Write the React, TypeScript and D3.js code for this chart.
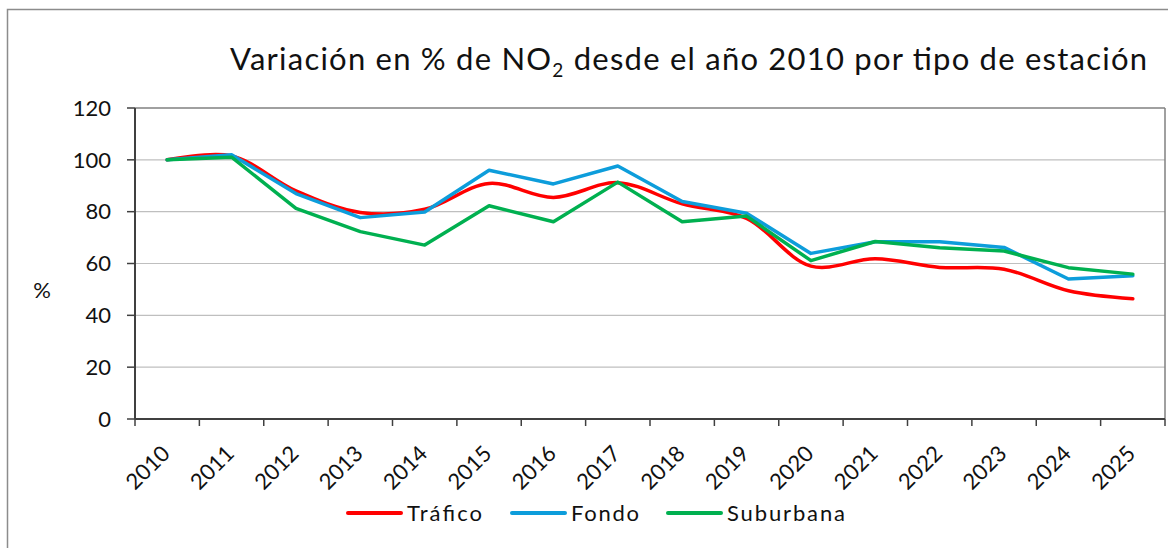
import React from 'react';
import * as d3 from 'd3';

// values
const years = ['2010', '2011', '2012', '2013', '2014', '2015', '2016', '2017', '2018', '2019', '2020', '2021', '2022', '2023', '2024', '2025'];
const trafico = [100, 101.5, 88, 79.7, 80.9, 90.9, 85.5, 91.2, 83, 77.4, 59, 61.8, 58.5, 57.8, 49.5, 46.4];
const fondo = [100, 102, 87, 77.7, 79.9, 96, 90.7, 97.6, 83.9, 79.4, 63.9, 68.4, 68.4, 66.2, 54, 55.3];
const suburbana = [100, 101, 81.3, 72.3, 67.1, 82.3, 76.1, 91.4, 76.1, 78.3, 61.1, 68.5, 66.1, 64.8, 58.4, 55.9];
const yTicks = [0, 20, 40, 60, 80, 100, 120];

const series = [
  { name: 'Tráfico', values: trafico, color: '#ff0000', smooth: true },
  { name: 'Fondo', values: fondo, color: '#0d9ddb', smooth: false },
  { name: 'Suburbana', values: suburbana, color: '#00b050', smooth: false },
];

const W = 1168;
const H = 548;
const FONT = 'Lato, "Open Sans", sans-serif';
const plot = { left: 135, right: 1165, top: 108, bottom: 419 };

export default function App() {
  const x = d3.scaleBand<string>().domain(years).range([plot.left, plot.right]);
  const y = d3.scaleLinear().domain([0, 120]).range([plot.bottom, plot.top]);
  const cx = (d: string) => (x(d) as number) + x.bandwidth() / 2;

  const mkLine = (smooth: boolean) =>
    d3
      .line<number>()
      .x((_, i) => cx(years[i]))
      .y((v) => y(v))
      .curve(smooth ? d3.curveCatmullRom.alpha(0.5) : d3.curveLinear);

  // legend positions and label widths as in the reference
  const legendItems = [
    { x: 348, w: 75 },
    { x: 512, w: 68 },
    { x: 668, w: 118 },
  ];

  return (
    <svg width={W} height={H} style={{ position: 'absolute', left: 0, top: 0, background: '#fff' }} fontFamily={FONT}>
      {/* chart frame */}
      <rect x={7.5} y={9.5} width={1180} height={560} fill="#fff" stroke="#8c8c8c" strokeWidth={1.5} />

      {/* title */}
      <text x={230} y={70} fontSize={31} fill="#111" textLength={917} lengthAdjust="spacing">
        Variación en % de NO<tspan fontSize={19} dy={7}>2</tspan>
        <tspan dy={-7}> desde el año 2010 por tipo de estación</tspan>
      </text>

      {/* gridlines */}
      {yTicks.filter((t) => t > 0 && t < 120).map((t) => (
        <line key={t} x1={plot.left} x2={plot.right} y1={y(t)} y2={y(t)} stroke="#bfbfbf" strokeWidth={1.2} />
      ))}
      {/* plot box top/right */}
      <line x1={plot.left} x2={plot.right} y1={y(120)} y2={y(120)} stroke="#808080" strokeWidth={1.5} />
      <line x1={plot.right} x2={plot.right} y1={plot.top} y2={plot.bottom} stroke="#808080" strokeWidth={1.5} />

      {/* y axis */}
      <line x1={plot.left} x2={plot.left} y1={plot.top} y2={plot.bottom} stroke="#404040" strokeWidth={2} />
      {yTicks.map((t) => (
        <g key={t}>
          <line x1={plot.left - 8} x2={plot.left} y1={y(t)} y2={y(t)} stroke="#404040" strokeWidth={1.5} />
          <text x={111} y={y(t)} dy="0.35em" textAnchor="end" fontSize={22} fill="#111">
            {t}
          </text>
        </g>
      ))}
      <text x={42} y={290} dy="0.35em" textAnchor="middle" fontSize={22} fill="#111">
        %
      </text>

      {/* x axis */}
      <line x1={plot.left} x2={plot.right} y1={plot.bottom} y2={plot.bottom} stroke="#404040" strokeWidth={2} />
      {years.map((yr, i) => (
        <line
          key={'t' + yr}
          x1={plot.left + i * x.step()}
          x2={plot.left + i * x.step()}
          y1={plot.bottom}
          y2={plot.bottom + 7}
          stroke="#404040"
          strokeWidth={1.5}
        />
      ))}
      <line x1={plot.right} x2={plot.right} y1={plot.bottom} y2={plot.bottom + 7} stroke="#404040" strokeWidth={1.5} />
      {years.map((yr) => (
        <text
          key={yr}
          transform={`translate(${cx(yr) + 4},${455}) rotate(-45)`}
          textAnchor="end"
          fontSize={22}
          fill="#111"
        >
          {yr}
        </text>
      ))}

      {/* series */}
      {series.map((s) => (
        <path
          key={s.name}
          d={mkLine(s.smooth)(s.values) || ''}
          fill="none"
          stroke={s.color}
          strokeWidth={3.5}
          strokeLinejoin="round"
          strokeLinecap="round"
        />
      ))}

      {/* legend */}
      {series.map((s, i) => (
        <g key={'lg' + s.name}>
          <line
            x1={legendItems[i].x}
            x2={legendItems[i].x + 53}
            y1={513}
            y2={513}
            stroke={s.color}
            strokeWidth={4}
            strokeLinecap="round"
          />
          <text
            x={legendItems[i].x + 59}
            y={521}
            fontSize={22}
            fill="#111"
            textLength={legendItems[i].w}
            lengthAdjust="spacing"
          >
            {s.name}
          </text>
        </g>
      ))}
    </svg>
  );
}
